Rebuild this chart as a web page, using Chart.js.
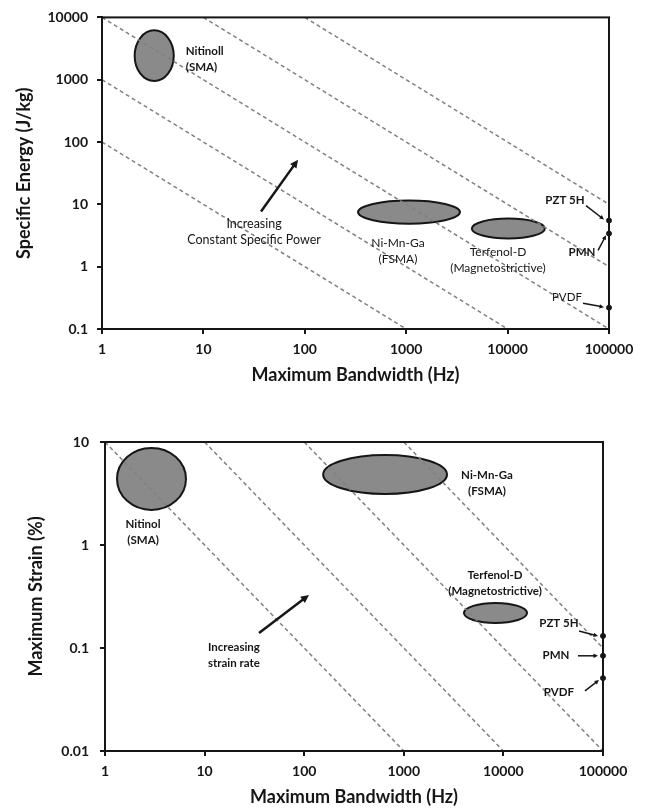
<!DOCTYPE html>
<html>
<head>
<meta charset="utf-8">
<script src="https://cdn.jsdelivr.net/npm/chart.js@4.4.0/dist/chart.umd.min.js"></script>
<style>
  body { margin: 0; background: #fff; }
  #wrap { position: relative; width: 646px; height: 809px; }
  canvas { position: absolute; left: 0; }
</style>
</head>
<body>
<div id="wrap">
  <canvas id="energyChart" width="646" height="400" style="top:0"></canvas>
  <canvas id="strainChart" width="646" height="409" style="top:400px"></canvas>
</div>
<script>
// tick values
const bandwidthTicks = [1, 10, 100, 1000, 10000, 100000];
const energyTicks = [0.1, 1, 10, 100, 1000, 10000];
const strainTicks = [0.01, 0.1, 1, 10];

// top chart - material regions (ellipses), bandwidth range x energy range
const energyMaterials = ['Nitinoll', 'Ni-Mn-Ga', 'Terfenol-D'];
const energyBwLow = [2.1, 335, 4440];
const energyBwHigh = [5.1, 3390, 23300];
const energyLow = [950, 4.9, 2.84];
const energyHigh = [6200, 11.5, 5.93];

// top chart - piezo materials at max bandwidth
const energyPointNames = ['PZT 5H', 'PMN', 'PVDF'];
const energyPointBw = [100000, 100000, 100000];
const energyPointValues = [5.5, 3.4, 0.22];

// top chart - constant specific power lines
const powerLineBwStart = [1, 1, 1, 10, 100];
const powerLineEnergyStart = [100, 1000, 10000, 10000, 10000];
const powerLineBwEnd = [1000, 10000, 100000, 100000, 100000];
const powerLineEnergyEnd = [0.1, 0.1, 0.1, 1, 10];

// bottom chart - material regions
const strainMaterials = ['Nitinol', 'Ni-Mn-Ga', 'Terfenol-D'];
const strainBwLow = [1.32, 155, 4020];
const strainBwHigh = [6.5, 2715, 17260];
const strainLow = [2.19, 3.13, 0.175];
const strainHigh = [8.75, 7.48, 0.274];

// bottom chart - piezo materials
const strainPointNames = ['PZT 5H', 'PMN', 'PVDF'];
const strainPointBw = [100000, 100000, 100000];
const strainPointValues = [0.131, 0.084, 0.051];

// bottom chart - constant strain rate lines
const rateLineBwStart = [1, 10, 100, 1000];
const rateLineStrainStart = [10, 10, 10, 10];
const rateLineBwEnd = [1000, 10000, 100000, 100000];
const rateLineStrainEnd = [0.01, 0.01, 0.01, 0.1];

const ink = '#161616';
const fontFamily = 'Lato, "Open Sans", sans-serif';

// text annotations, anchored in data coords
const energyNotes = [
  { x: 6.7, y: 2860, lines: ['Nitinoll', '(SMA)'], align: 'left', weight: 'bold', size: 11.5 },
  { x: 830, y: 2.37, lines: ['Ni-Mn-Ga', '(FSMA)'], align: 'center', weight: 'normal', size: 12 },
  { x: 8040, y: 1.7, lines: ['Terfenol-D', '(Magnetostrictive)'], align: 'center', weight: 'normal', size: 12 },
  { x: 36800, y: 11.5, lines: ['PZT 5H'], align: 'center', weight: 'bold', size: 11.5 },
  { x: 54200, y: 1.7, lines: ['PMN'], align: 'center', weight: 'bold', size: 11.5 },
  { x: 38500, y: 0.32, lines: ['PVDF'], align: 'center', weight: 'normal', size: 11.5 },
  { x: 31.6, y: 4.93, lines: ['Increasing', 'Constant Specific Power'], align: 'center', weight: 'normal', size: 12.5 }
];
const energyArrows = [
  { from: [37, 7.7], to: [85.7, 52], width: 2.5, head: 9 },
  { from: [59300, 9.57], to: [89300, 5.7], width: 1.5, head: 5 },
  { from: [78000, 1.83], to: [93400, 3.18], width: 1.5, head: 5 },
  { from: [55400, 0.26], to: [89300, 0.224], width: 1.5, head: 5 }
];

const strainNotes = [
  { x: 2.41, y: 1.6, lines: ['Nitinol', '(SMA)'], align: 'center', weight: 'bold', size: 11.5 },
  { x: 6840, y: 4.78, lines: ['Ni-Mn-Ga', '(FSMA)'], align: 'center', weight: 'bold', size: 11.5 },
  { x: 8240, y: 0.51, lines: ['Terfenol-D', '(Magnetostrictive)'], align: 'center', weight: 'bold', size: 11.5 },
  { x: 36100, y: 0.175, lines: ['PZT 5H'], align: 'center', weight: 'bold', size: 11.5 },
  { x: 33700, y: 0.0855, lines: ['PMN'], align: 'center', weight: 'bold', size: 11.5 },
  { x: 36100, y: 0.0374, lines: ['PVDF'], align: 'center', weight: 'bold', size: 11.5 },
  { x: 10.8, y: 0.102, lines: ['Increasing', 'strain rate'], align: 'left', weight: 'bold', size: 11.5 }
];
const strainArrows = [
  { from: [35.2, 0.14], to: [111.7, 0.327], width: 2.5, head: 9 },
  { from: [57400, 0.146], to: [89100, 0.131], width: 1.5, head: 5 },
  { from: [56100, 0.084], to: [89100, 0.084], width: 1.5, head: 5 },
  { from: [65900, 0.0383], to: [91200, 0.0489], width: 1.5, head: 5 }
];

function makeOverlay(ellipses, notes, arrows) {
  return {
    id: 'overlay',
    beforeDatasetsDraw(chart) {
      const { ctx, scales: { x, y } } = chart;
      ctx.save();
      ellipses.forEach(e => {
        const x1 = x.getPixelForValue(e.x0), x2 = x.getPixelForValue(e.x1);
        const y1 = y.getPixelForValue(e.y0), y2 = y.getPixelForValue(e.y1);
        ctx.beginPath();
        ctx.ellipse((x1 + x2) / 2, (y1 + y2) / 2, Math.abs(x2 - x1) / 2, Math.abs(y2 - y1) / 2, 0, 0, Math.PI * 2);
        ctx.fillStyle = '#8a8a8a';
        ctx.fill();
        ctx.lineWidth = 2;
        ctx.strokeStyle = ink;
        ctx.stroke();
      });
      ctx.restore();
    },
    afterDatasetsDraw(chart) {
      const { ctx, chartArea: a, scales: { x, y } } = chart;
      ctx.save();
      // frame around plot
      ctx.strokeStyle = ink;
      ctx.lineWidth = 2;
      ctx.strokeRect(a.left, a.top, a.right - a.left, a.bottom - a.top);

      arrows.forEach(ar => {
        const fx = x.getPixelForValue(ar.from[0]), fy = y.getPixelForValue(ar.from[1]);
        const tx = x.getPixelForValue(ar.to[0]), ty = y.getPixelForValue(ar.to[1]);
        const ang = Math.atan2(ty - fy, tx - fx);
        ctx.strokeStyle = ink;
        ctx.fillStyle = ink;
        ctx.lineWidth = ar.width;
        ctx.beginPath();
        ctx.moveTo(fx, fy);
        ctx.lineTo(tx - Math.cos(ang) * ar.head * 0.6, ty - Math.sin(ang) * ar.head * 0.6);
        ctx.stroke();
        ctx.beginPath();
        ctx.moveTo(tx, ty);
        ctx.lineTo(tx - ar.head * Math.cos(ang - 0.45), ty - ar.head * Math.sin(ang - 0.45));
        ctx.lineTo(tx - ar.head * Math.cos(ang + 0.45), ty - ar.head * Math.sin(ang + 0.45));
        ctx.closePath();
        ctx.fill();
      });

      notes.forEach(n => {
        const px = x.getPixelForValue(n.x), py = y.getPixelForValue(n.y);
        ctx.font = n.weight + ' ' + n.size + 'px ' + fontFamily;
        ctx.fillStyle = ink;
        ctx.textAlign = n.align;
        ctx.textBaseline = 'middle';
        n.lines.forEach((t, i) => ctx.fillText(t, px, py + i * 16));
      });
      ctx.restore();
    }
  };
}

function buildChart(canvasId, cfg) {
  const ellipses = cfg.names.map((n, i) => ({
    x0: cfg.bwLow[i], x1: cfg.bwHigh[i], y0: cfg.valLow[i], y1: cfg.valHigh[i]
  }));

  const lineSets = cfg.lineBwStart.map((b, i) => ({
    type: 'line',
    data: [{ x: b, y: cfg.lineValStart[i] }, { x: cfg.lineBwEnd[i], y: cfg.lineValEnd[i] }],
    borderColor: '#808080',
    borderWidth: 1.5,
    borderDash: [4, 3],
    pointRadius: 0,
    fill: false
  }));

  const pointSet = {
    type: 'scatter',
    label: 'piezo',
    data: cfg.pointBw.map((b, i) => ({ x: b, y: cfg.pointVals[i] })),
    pointRadius: 2.5,
    pointBackgroundColor: ink,
    pointBorderColor: ink,
    clip: false
  };

  const tickFont = { family: fontFamily, weight: 'bold', size: 14 };
  const titleFont = { family: fontFamily, weight: 'bold', size: 18 };

  return new Chart(document.getElementById(canvasId), {
    type: 'scatter',
    data: { datasets: [...lineSets, pointSet] },
    options: {
      responsive: false,
      animation: false,
      layout: { padding: cfg.padding },
      plugins: { legend: { display: false }, tooltip: { enabled: false } },
      scales: {
        x: {
          type: 'logarithmic',
          min: bandwidthTicks[0],
          max: bandwidthTicks[bandwidthTicks.length - 1],
          afterBuildTicks: s => { s.ticks = bandwidthTicks.map(v => ({ value: v })); },
          afterFit: s => { s.height = cfg.xHeight; },
          ticks: { callback: v => String(v), font: tickFont, color: ink, padding: 7, maxRotation: 0, autoSkip: false },
          grid: { drawOnChartArea: false, tickLength: 5, color: ink, lineWidth: 2 },
          border: { color: ink, width: 2 },
          title: { display: true, text: 'Maximum Bandwidth (Hz)', font: titleFont, color: ink, padding: { bottom: cfg.xTitlePad, top: 0 } }
        },
        y: {
          type: 'logarithmic',
          min: cfg.yTicks[0],
          max: cfg.yTicks[cfg.yTicks.length - 1],
          afterBuildTicks: s => { s.ticks = cfg.yTicks.map(v => ({ value: v })); },
          afterFit: s => { s.width = cfg.yWidth; },
          ticks: { callback: v => String(v), font: tickFont, color: ink, padding: cfg.yTickPad, autoSkip: false },
          grid: { drawOnChartArea: false, tickLength: 5, color: ink, lineWidth: 2 },
          border: { color: ink, width: 2 },
          title: { display: true, text: cfg.yTitle, font: titleFont, color: ink, padding: { top: cfg.yTitlePad, bottom: 0 } }
        }
      }
    },
    plugins: [makeOverlay(ellipses, cfg.notes, cfg.arrows)]
  });
}

buildChart('energyChart', {
  names: energyMaterials, bwLow: energyBwLow, bwHigh: energyBwHigh, valLow: energyLow, valHigh: energyHigh,
  pointBw: energyPointBw, pointVals: energyPointValues,
  lineBwStart: powerLineBwStart, lineValStart: powerLineEnergyStart, lineBwEnd: powerLineBwEnd, lineValEnd: powerLineEnergyEnd,
  yTicks: energyTicks, yTitle: 'Specific Energy (J/kg)',
  padding: { left: 0, right: 37, top: 16, bottom: 0 },
  xHeight: 71, yWidth: 102, xTitlePad: 14.2, yTitlePad: 13.2, yTickPad: 9,
  notes: energyNotes, arrows: energyArrows
});

buildChart('strainChart', {
  names: strainMaterials, bwLow: strainBwLow, bwHigh: strainBwHigh, valLow: strainLow, valHigh: strainHigh,
  pointBw: strainPointBw, pointVals: strainPointValues,
  lineBwStart: rateLineBwStart, lineValStart: rateLineStrainStart, lineBwEnd: rateLineBwEnd, lineValEnd: rateLineStrainEnd,
  yTicks: strainTicks, yTitle: 'Maximum Strain (%)',
  padding: { left: 0, right: 43, top: 42, bottom: 0 },
  xHeight: 58, yWidth: 105, xTitlePad: 1.2, yTitlePad: 25.2, yTickPad: 11,
  notes: strainNotes, arrows: strainArrows
});
</script>
</body>
</html>
